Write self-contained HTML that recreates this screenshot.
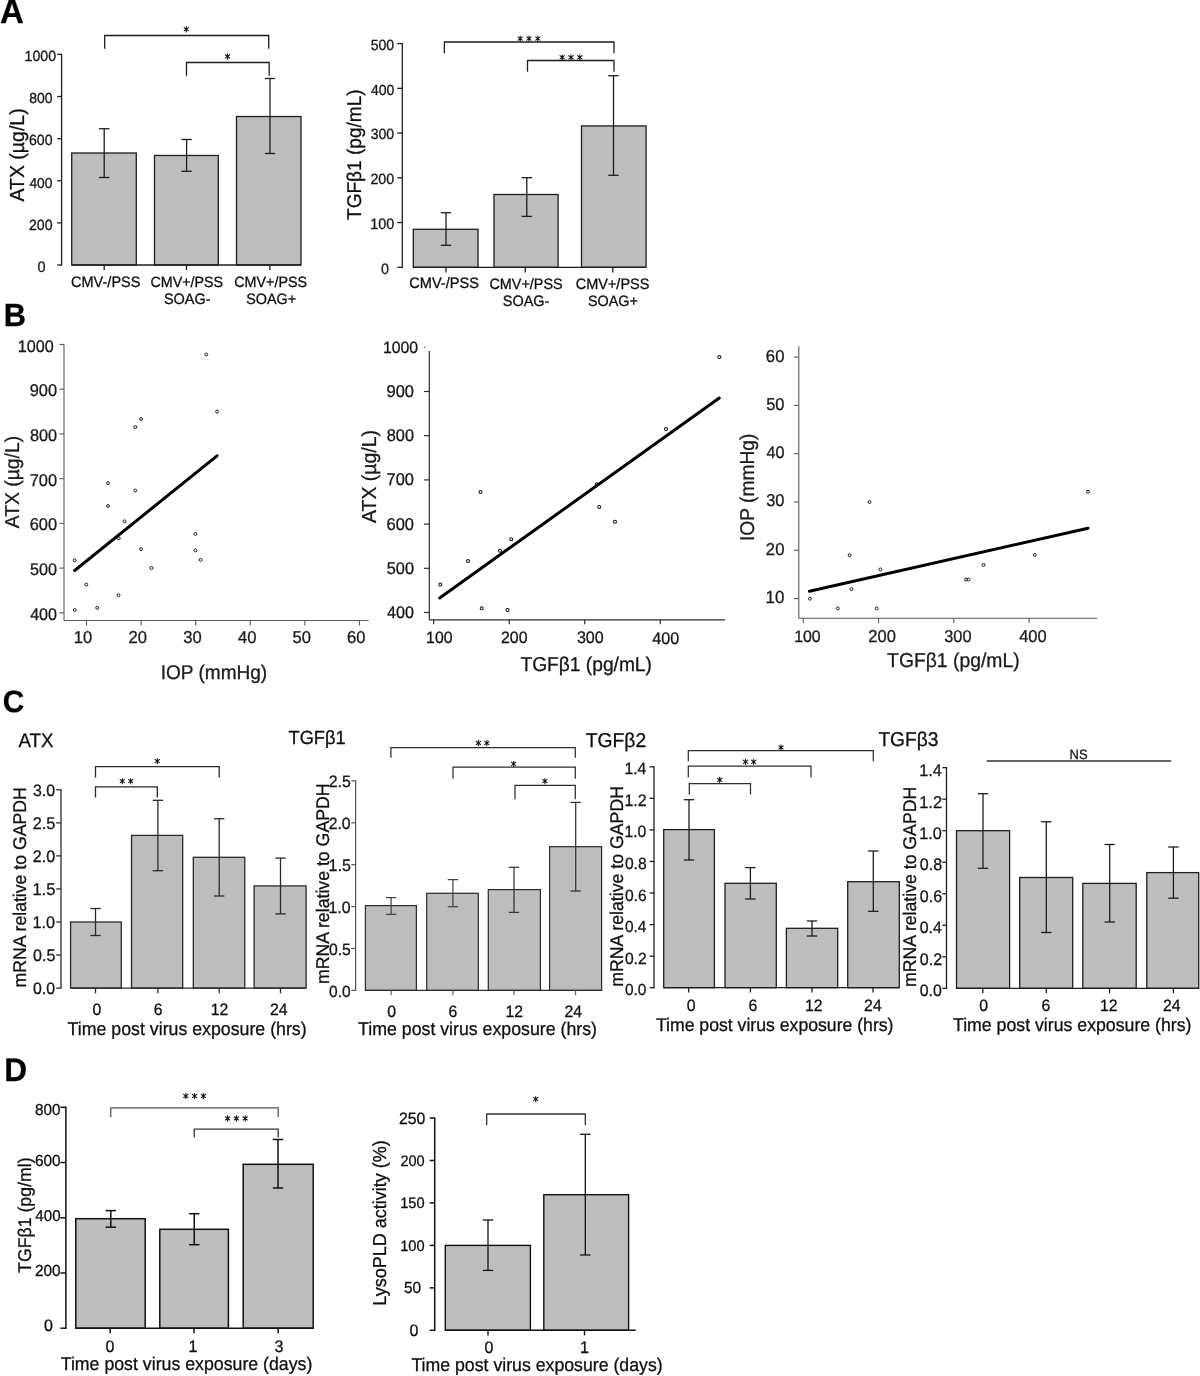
<!DOCTYPE html>
<html><head><meta charset="utf-8"><title>Figure</title>
<style>html,body{margin:0;padding:0;background:#fff;overflow:hidden;}svg{display:block;}text{font-family:"Liberation Sans", sans-serif;text-rendering:geometricPrecision;stroke:#000;stroke-width:0.25px;}#g{will-change:transform;}</style>
</head><body>
<svg id="g" width="1200" height="1376" viewBox="0 0 1200 1376">
<rect width="1200" height="1376" fill="#fff"/>
<line x1="61.60" y1="53.75" x2="61.60" y2="265.65" stroke="#1e1e1e" stroke-width="1.3" stroke-linecap="butt"/>
<line x1="57.20" y1="265.00" x2="61.60" y2="265.00" stroke="#1e1e1e" stroke-width="1.3" stroke-linecap="butt"/>
<line x1="57.20" y1="222.88" x2="61.60" y2="222.88" stroke="#1e1e1e" stroke-width="1.3" stroke-linecap="butt"/>
<line x1="57.20" y1="180.76" x2="61.60" y2="180.76" stroke="#1e1e1e" stroke-width="1.3" stroke-linecap="butt"/>
<line x1="57.20" y1="138.64" x2="61.60" y2="138.64" stroke="#1e1e1e" stroke-width="1.3" stroke-linecap="butt"/>
<line x1="57.20" y1="96.52" x2="61.60" y2="96.52" stroke="#1e1e1e" stroke-width="1.3" stroke-linecap="butt"/>
<line x1="57.20" y1="54.40" x2="61.60" y2="54.40" stroke="#1e1e1e" stroke-width="1.3" stroke-linecap="butt"/>
<rect x="71.70" y="153.00" width="64.60" height="112.00" fill="#bebebe" stroke="#1e1e1e" stroke-width="1.3"/>
<rect x="154.50" y="155.49" width="63.80" height="109.51" fill="#bebebe" stroke="#1e1e1e" stroke-width="1.3"/>
<rect x="236.50" y="116.53" width="64.50" height="148.47" fill="#bebebe" stroke="#1e1e1e" stroke-width="1.3"/>
<line x1="71.70" y1="265.00" x2="301.00" y2="265.00" stroke="#1e1e1e" stroke-width="1.3" stroke-linecap="butt"/>
<line x1="104.20" y1="128.70" x2="104.20" y2="177.50" stroke="#1e1e1e" stroke-width="1.3" stroke-linecap="butt"/>
<line x1="99.00" y1="128.70" x2="109.40" y2="128.70" stroke="#1e1e1e" stroke-width="1.3" stroke-linecap="butt"/>
<line x1="99.00" y1="177.50" x2="109.40" y2="177.50" stroke="#1e1e1e" stroke-width="1.3" stroke-linecap="butt"/>
<line x1="186.60" y1="139.50" x2="186.60" y2="171.30" stroke="#1e1e1e" stroke-width="1.3" stroke-linecap="butt"/>
<line x1="181.40" y1="139.50" x2="191.80" y2="139.50" stroke="#1e1e1e" stroke-width="1.3" stroke-linecap="butt"/>
<line x1="181.40" y1="171.30" x2="191.80" y2="171.30" stroke="#1e1e1e" stroke-width="1.3" stroke-linecap="butt"/>
<line x1="270.00" y1="78.50" x2="270.00" y2="153.50" stroke="#1e1e1e" stroke-width="1.3" stroke-linecap="butt"/>
<line x1="264.80" y1="78.50" x2="275.20" y2="78.50" stroke="#1e1e1e" stroke-width="1.3" stroke-linecap="butt"/>
<line x1="264.80" y1="153.50" x2="275.20" y2="153.50" stroke="#1e1e1e" stroke-width="1.3" stroke-linecap="butt"/>
<line x1="104.20" y1="265.00" x2="104.20" y2="270.00" stroke="#1e1e1e" stroke-width="1.3" stroke-linecap="butt"/>
<line x1="186.50" y1="265.00" x2="186.50" y2="270.00" stroke="#1e1e1e" stroke-width="1.3" stroke-linecap="butt"/>
<line x1="269.90" y1="265.00" x2="269.90" y2="270.00" stroke="#1e1e1e" stroke-width="1.3" stroke-linecap="butt"/>
<polyline points="104.70,48.70 104.70,35.50 268.70,35.50 268.70,48.70" fill="none" stroke="#1e1e1e" stroke-width="1.3" stroke-linejoin="miter"/>
<path d="M186.30,29.40L186.30,26.55M186.30,29.40L186.30,31.95M186.30,29.40L184.10,27.55M186.30,29.40L188.50,27.55M186.30,29.40L184.20,30.75M186.30,29.40L188.40,30.75" stroke="#111" stroke-width="1.05" stroke-linecap="round" fill="none"/><circle cx="186.30" cy="29.40" r="0.75" fill="#111"/>
<polyline points="186.50,75.70 186.50,62.50 269.20,62.50 269.20,75.70" fill="none" stroke="#1e1e1e" stroke-width="1.3" stroke-linejoin="miter"/>
<path d="M227.50,56.60L227.50,53.75M227.50,56.60L227.50,59.15M227.50,56.60L225.30,54.75M227.50,56.60L229.70,54.75M227.50,56.60L225.40,57.95M227.50,56.60L229.60,57.95" stroke="#111" stroke-width="1.05" stroke-linecap="round" fill="none"/><circle cx="227.50" cy="56.60" r="0.75" fill="#111"/>
<line x1="402.30" y1="42.95" x2="402.30" y2="267.95" stroke="#1e1e1e" stroke-width="1.3" stroke-linecap="butt"/>
<line x1="397.30" y1="267.30" x2="402.30" y2="267.30" stroke="#1e1e1e" stroke-width="1.3" stroke-linecap="butt"/>
<line x1="397.30" y1="222.56" x2="402.30" y2="222.56" stroke="#1e1e1e" stroke-width="1.3" stroke-linecap="butt"/>
<line x1="397.30" y1="177.82" x2="402.30" y2="177.82" stroke="#1e1e1e" stroke-width="1.3" stroke-linecap="butt"/>
<line x1="397.30" y1="133.08" x2="402.30" y2="133.08" stroke="#1e1e1e" stroke-width="1.3" stroke-linecap="butt"/>
<line x1="397.30" y1="88.34" x2="402.30" y2="88.34" stroke="#1e1e1e" stroke-width="1.3" stroke-linecap="butt"/>
<line x1="397.30" y1="43.60" x2="402.30" y2="43.60" stroke="#1e1e1e" stroke-width="1.3" stroke-linecap="butt"/>
<rect x="413.30" y="229.30" width="64.70" height="38.00" fill="#bebebe" stroke="#1e1e1e" stroke-width="1.3"/>
<rect x="494.00" y="194.50" width="64.10" height="72.80" fill="#bebebe" stroke="#1e1e1e" stroke-width="1.3"/>
<rect x="581.50" y="125.90" width="64.60" height="141.40" fill="#bebebe" stroke="#1e1e1e" stroke-width="1.3"/>
<line x1="413.30" y1="267.30" x2="646.10" y2="267.30" stroke="#1e1e1e" stroke-width="1.3" stroke-linecap="butt"/>
<line x1="446.00" y1="212.70" x2="446.00" y2="245.30" stroke="#1e1e1e" stroke-width="1.3" stroke-linecap="butt"/>
<line x1="440.80" y1="212.70" x2="451.20" y2="212.70" stroke="#1e1e1e" stroke-width="1.3" stroke-linecap="butt"/>
<line x1="440.80" y1="245.30" x2="451.20" y2="245.30" stroke="#1e1e1e" stroke-width="1.3" stroke-linecap="butt"/>
<line x1="526.80" y1="177.70" x2="526.80" y2="216.40" stroke="#1e1e1e" stroke-width="1.3" stroke-linecap="butt"/>
<line x1="521.60" y1="177.70" x2="532.00" y2="177.70" stroke="#1e1e1e" stroke-width="1.3" stroke-linecap="butt"/>
<line x1="521.60" y1="216.40" x2="532.00" y2="216.40" stroke="#1e1e1e" stroke-width="1.3" stroke-linecap="butt"/>
<line x1="613.50" y1="75.70" x2="613.50" y2="175.30" stroke="#1e1e1e" stroke-width="1.3" stroke-linecap="butt"/>
<line x1="608.30" y1="75.70" x2="618.70" y2="75.70" stroke="#1e1e1e" stroke-width="1.3" stroke-linecap="butt"/>
<line x1="608.30" y1="175.30" x2="618.70" y2="175.30" stroke="#1e1e1e" stroke-width="1.3" stroke-linecap="butt"/>
<line x1="446.00" y1="267.30" x2="446.00" y2="272.50" stroke="#1e1e1e" stroke-width="1.3" stroke-linecap="butt"/>
<line x1="525.30" y1="267.30" x2="525.30" y2="272.50" stroke="#1e1e1e" stroke-width="1.3" stroke-linecap="butt"/>
<line x1="612.80" y1="267.30" x2="612.80" y2="272.50" stroke="#1e1e1e" stroke-width="1.3" stroke-linecap="butt"/>
<polyline points="444.40,53.30 444.40,42.00 614.00,42.00 614.00,53.30" fill="none" stroke="#1e1e1e" stroke-width="1.3" stroke-linejoin="miter"/>
<path d="M520.20,38.80L520.20,35.95M520.20,38.80L520.20,41.35M520.20,38.80L518.00,36.95M520.20,38.80L522.40,36.95M520.20,38.80L518.10,40.15M520.20,38.80L522.30,40.15" stroke="#111" stroke-width="1.05" stroke-linecap="round" fill="none"/><circle cx="520.20" cy="38.80" r="0.75" fill="#111"/>
<path d="M529.00,38.80L529.00,35.95M529.00,38.80L529.00,41.35M529.00,38.80L526.80,36.95M529.00,38.80L531.20,36.95M529.00,38.80L526.90,40.15M529.00,38.80L531.10,40.15" stroke="#111" stroke-width="1.05" stroke-linecap="round" fill="none"/><circle cx="529.00" cy="38.80" r="0.75" fill="#111"/>
<path d="M537.80,38.80L537.80,35.95M537.80,38.80L537.80,41.35M537.80,38.80L535.60,36.95M537.80,38.80L540.00,36.95M537.80,38.80L535.70,40.15M537.80,38.80L539.90,40.15" stroke="#111" stroke-width="1.05" stroke-linecap="round" fill="none"/><circle cx="537.80" cy="38.80" r="0.75" fill="#111"/>
<polyline points="527.50,71.80 527.50,60.50 614.00,60.50 614.00,71.80" fill="none" stroke="#1e1e1e" stroke-width="1.3" stroke-linejoin="miter"/>
<path d="M562.20,57.50L562.20,54.65M562.20,57.50L562.20,60.05M562.20,57.50L560.00,55.65M562.20,57.50L564.40,55.65M562.20,57.50L560.10,58.85M562.20,57.50L564.30,58.85" stroke="#111" stroke-width="1.05" stroke-linecap="round" fill="none"/><circle cx="562.20" cy="57.50" r="0.75" fill="#111"/>
<path d="M571.00,57.50L571.00,54.65M571.00,57.50L571.00,60.05M571.00,57.50L568.80,55.65M571.00,57.50L573.20,55.65M571.00,57.50L568.90,58.85M571.00,57.50L573.10,58.85" stroke="#111" stroke-width="1.05" stroke-linecap="round" fill="none"/><circle cx="571.00" cy="57.50" r="0.75" fill="#111"/>
<path d="M579.80,57.50L579.80,54.65M579.80,57.50L579.80,60.05M579.80,57.50L577.60,55.65M579.80,57.50L582.00,55.65M579.80,57.50L577.70,58.85M579.80,57.50L581.90,58.85" stroke="#111" stroke-width="1.05" stroke-linecap="round" fill="none"/><circle cx="579.80" cy="57.50" r="0.75" fill="#111"/>
<line x1="64.00" y1="344.48" x2="64.00" y2="620.50" stroke="#5a5a5a" stroke-width="1.1" stroke-linecap="butt"/>
<line x1="64.00" y1="620.50" x2="368.70" y2="620.50" stroke="#5a5a5a" stroke-width="1.1" stroke-linecap="butt"/>
<line x1="59.40" y1="612.80" x2="64.00" y2="612.80" stroke="#5a5a5a" stroke-width="1.1" stroke-linecap="butt"/>
<line x1="59.40" y1="568.08" x2="64.00" y2="568.08" stroke="#5a5a5a" stroke-width="1.1" stroke-linecap="butt"/>
<line x1="59.40" y1="523.36" x2="64.00" y2="523.36" stroke="#5a5a5a" stroke-width="1.1" stroke-linecap="butt"/>
<line x1="59.40" y1="478.64" x2="64.00" y2="478.64" stroke="#5a5a5a" stroke-width="1.1" stroke-linecap="butt"/>
<line x1="59.40" y1="433.92" x2="64.00" y2="433.92" stroke="#5a5a5a" stroke-width="1.1" stroke-linecap="butt"/>
<line x1="59.40" y1="389.20" x2="64.00" y2="389.20" stroke="#5a5a5a" stroke-width="1.1" stroke-linecap="butt"/>
<line x1="59.40" y1="344.48" x2="64.00" y2="344.48" stroke="#5a5a5a" stroke-width="1.1" stroke-linecap="butt"/>
<line x1="86.50" y1="620.50" x2="86.50" y2="625.50" stroke="#5a5a5a" stroke-width="1.1" stroke-linecap="butt"/>
<line x1="141.10" y1="620.50" x2="141.10" y2="625.50" stroke="#5a5a5a" stroke-width="1.1" stroke-linecap="butt"/>
<line x1="195.70" y1="620.50" x2="195.70" y2="625.50" stroke="#5a5a5a" stroke-width="1.1" stroke-linecap="butt"/>
<line x1="250.30" y1="620.50" x2="250.30" y2="625.50" stroke="#5a5a5a" stroke-width="1.1" stroke-linecap="butt"/>
<line x1="304.90" y1="620.50" x2="304.90" y2="625.50" stroke="#5a5a5a" stroke-width="1.1" stroke-linecap="butt"/>
<line x1="359.50" y1="620.50" x2="359.50" y2="625.50" stroke="#5a5a5a" stroke-width="1.1" stroke-linecap="butt"/>
<line x1="74.70" y1="570.50" x2="217.00" y2="455.80" stroke="#000" stroke-width="3.0" stroke-linecap="round"/>
<circle cx="206.25" cy="354.50" r="1.45" fill="none" stroke="#1a1a1a" stroke-width="1.0"/>
<circle cx="217.05" cy="411.55" r="1.45" fill="none" stroke="#1a1a1a" stroke-width="1.0"/>
<circle cx="141.00" cy="419.05" r="1.45" fill="none" stroke="#1a1a1a" stroke-width="1.0"/>
<circle cx="135.30" cy="427.15" r="1.45" fill="none" stroke="#1a1a1a" stroke-width="1.0"/>
<circle cx="108.00" cy="483.20" r="1.45" fill="none" stroke="#1a1a1a" stroke-width="1.0"/>
<circle cx="135.30" cy="490.55" r="1.45" fill="none" stroke="#1a1a1a" stroke-width="1.0"/>
<circle cx="108.00" cy="506.00" r="1.45" fill="none" stroke="#1a1a1a" stroke-width="1.0"/>
<circle cx="124.50" cy="521.30" r="1.45" fill="none" stroke="#1a1a1a" stroke-width="1.0"/>
<circle cx="118.80" cy="538.25" r="1.45" fill="none" stroke="#1a1a1a" stroke-width="1.0"/>
<circle cx="141.00" cy="549.20" r="1.45" fill="none" stroke="#1a1a1a" stroke-width="1.0"/>
<circle cx="195.45" cy="533.90" r="1.45" fill="none" stroke="#1a1a1a" stroke-width="1.0"/>
<circle cx="195.45" cy="550.40" r="1.45" fill="none" stroke="#1a1a1a" stroke-width="1.0"/>
<circle cx="200.55" cy="559.85" r="1.45" fill="none" stroke="#1a1a1a" stroke-width="1.0"/>
<circle cx="151.50" cy="567.95" r="1.45" fill="none" stroke="#1a1a1a" stroke-width="1.0"/>
<circle cx="74.70" cy="560.30" r="1.45" fill="none" stroke="#1a1a1a" stroke-width="1.0"/>
<circle cx="86.25" cy="584.60" r="1.45" fill="none" stroke="#1a1a1a" stroke-width="1.0"/>
<circle cx="118.50" cy="595.25" r="1.45" fill="none" stroke="#1a1a1a" stroke-width="1.0"/>
<circle cx="97.20" cy="607.85" r="1.45" fill="none" stroke="#1a1a1a" stroke-width="1.0"/>
<circle cx="74.70" cy="610.00" r="1.45" fill="none" stroke="#1a1a1a" stroke-width="1.0"/>
<line x1="429.30" y1="351.00" x2="429.30" y2="619.80" stroke="#2a2a2a" stroke-width="1.2" stroke-linecap="butt"/>
<line x1="429.30" y1="619.80" x2="725.00" y2="619.80" stroke="#2a2a2a" stroke-width="1.2" stroke-linecap="butt"/>
<line x1="424.00" y1="612.50" x2="429.30" y2="612.50" stroke="#2a2a2a" stroke-width="1.2" stroke-linecap="butt"/>
<line x1="424.00" y1="568.30" x2="429.30" y2="568.30" stroke="#2a2a2a" stroke-width="1.2" stroke-linecap="butt"/>
<line x1="424.00" y1="524.10" x2="429.30" y2="524.10" stroke="#2a2a2a" stroke-width="1.2" stroke-linecap="butt"/>
<line x1="424.00" y1="479.90" x2="429.30" y2="479.90" stroke="#2a2a2a" stroke-width="1.2" stroke-linecap="butt"/>
<line x1="424.00" y1="435.70" x2="429.30" y2="435.70" stroke="#2a2a2a" stroke-width="1.2" stroke-linecap="butt"/>
<line x1="424.00" y1="391.50" x2="429.30" y2="391.50" stroke="#2a2a2a" stroke-width="1.2" stroke-linecap="butt"/>
<line x1="424.20" y1="347.30" x2="425.40" y2="347.30" stroke="#2a2a2a" stroke-width="1.0" stroke-linecap="butt"/>
<line x1="433.70" y1="619.80" x2="433.70" y2="624.20" stroke="#2a2a2a" stroke-width="1.2" stroke-linecap="butt"/>
<line x1="509.23" y1="619.80" x2="509.23" y2="624.20" stroke="#2a2a2a" stroke-width="1.2" stroke-linecap="butt"/>
<line x1="584.76" y1="619.80" x2="584.76" y2="624.20" stroke="#2a2a2a" stroke-width="1.2" stroke-linecap="butt"/>
<line x1="660.29" y1="619.80" x2="660.29" y2="624.20" stroke="#2a2a2a" stroke-width="1.2" stroke-linecap="butt"/>
<line x1="439.70" y1="598.00" x2="719.30" y2="398.00" stroke="#000" stroke-width="3.0" stroke-linecap="round"/>
<circle cx="480.50" cy="492.00" r="1.5" fill="none" stroke="#111" stroke-width="1.05"/>
<circle cx="468.00" cy="561.00" r="1.5" fill="none" stroke="#111" stroke-width="1.05"/>
<circle cx="440.30" cy="584.50" r="1.5" fill="none" stroke="#111" stroke-width="1.05"/>
<circle cx="500.00" cy="550.80" r="1.5" fill="none" stroke="#111" stroke-width="1.05"/>
<circle cx="511.20" cy="539.20" r="1.5" fill="none" stroke="#111" stroke-width="1.05"/>
<circle cx="481.70" cy="608.20" r="1.5" fill="none" stroke="#111" stroke-width="1.05"/>
<circle cx="507.50" cy="610.00" r="1.5" fill="none" stroke="#111" stroke-width="1.05"/>
<circle cx="599.20" cy="507.00" r="1.5" fill="none" stroke="#111" stroke-width="1.05"/>
<circle cx="615.00" cy="521.70" r="1.5" fill="none" stroke="#111" stroke-width="1.05"/>
<circle cx="596.70" cy="484.20" r="1.5" fill="none" stroke="#111" stroke-width="1.05"/>
<circle cx="719.30" cy="357.00" r="1.5" fill="none" stroke="#111" stroke-width="1.05"/>
<circle cx="666.00" cy="429.00" r="1.5" fill="none" stroke="#111" stroke-width="1.05"/>
<line x1="798.80" y1="346.30" x2="798.80" y2="618.20" stroke="#5a5a5a" stroke-width="1.1" stroke-linecap="butt"/>
<line x1="798.80" y1="618.20" x2="1097.20" y2="618.20" stroke="#5a5a5a" stroke-width="1.1" stroke-linecap="butt"/>
<line x1="794.00" y1="598.60" x2="798.80" y2="598.60" stroke="#5a5a5a" stroke-width="1.1" stroke-linecap="butt"/>
<line x1="794.00" y1="550.30" x2="798.80" y2="550.30" stroke="#5a5a5a" stroke-width="1.1" stroke-linecap="butt"/>
<line x1="794.00" y1="502.00" x2="798.80" y2="502.00" stroke="#5a5a5a" stroke-width="1.1" stroke-linecap="butt"/>
<line x1="794.00" y1="453.70" x2="798.80" y2="453.70" stroke="#5a5a5a" stroke-width="1.1" stroke-linecap="butt"/>
<line x1="794.00" y1="405.40" x2="798.80" y2="405.40" stroke="#5a5a5a" stroke-width="1.1" stroke-linecap="butt"/>
<line x1="794.00" y1="357.10" x2="798.80" y2="357.10" stroke="#5a5a5a" stroke-width="1.1" stroke-linecap="butt"/>
<line x1="803.30" y1="618.20" x2="803.30" y2="623.00" stroke="#5a5a5a" stroke-width="1.1" stroke-linecap="butt"/>
<line x1="878.57" y1="618.20" x2="878.57" y2="623.00" stroke="#5a5a5a" stroke-width="1.1" stroke-linecap="butt"/>
<line x1="953.84" y1="618.20" x2="953.84" y2="623.00" stroke="#5a5a5a" stroke-width="1.1" stroke-linecap="butt"/>
<line x1="1029.11" y1="618.20" x2="1029.11" y2="623.00" stroke="#5a5a5a" stroke-width="1.1" stroke-linecap="butt"/>
<line x1="809.40" y1="591.20" x2="1088.00" y2="528.20" stroke="#000" stroke-width="3.0" stroke-linecap="round"/>
<circle cx="809.90" cy="598.70" r="1.45" fill="none" stroke="#1a1a1a" stroke-width="1.0"/>
<circle cx="837.80" cy="608.40" r="1.45" fill="none" stroke="#1a1a1a" stroke-width="1.0"/>
<circle cx="849.60" cy="555.20" r="1.45" fill="none" stroke="#1a1a1a" stroke-width="1.0"/>
<circle cx="851.50" cy="589.20" r="1.45" fill="none" stroke="#1a1a1a" stroke-width="1.0"/>
<circle cx="869.50" cy="502.10" r="1.45" fill="none" stroke="#1a1a1a" stroke-width="1.0"/>
<circle cx="876.70" cy="608.40" r="1.45" fill="none" stroke="#1a1a1a" stroke-width="1.0"/>
<circle cx="880.40" cy="569.40" r="1.45" fill="none" stroke="#1a1a1a" stroke-width="1.0"/>
<circle cx="1088.00" cy="491.70" r="1.45" fill="none" stroke="#1a1a1a" stroke-width="1.0"/>
<circle cx="1034.80" cy="554.90" r="1.45" fill="none" stroke="#1a1a1a" stroke-width="1.0"/>
<circle cx="983.50" cy="564.90" r="1.45" fill="none" stroke="#1a1a1a" stroke-width="1.0"/>
<circle cx="966.00" cy="579.50" r="1.45" fill="none" stroke="#1a1a1a" stroke-width="1.0"/>
<circle cx="968.60" cy="579.50" r="1.45" fill="none" stroke="#1a1a1a" stroke-width="1.0"/>
<line x1="61.00" y1="789.15" x2="61.00" y2="988.75" stroke="#2a2a2a" stroke-width="1.3" stroke-linecap="butt"/>
<line x1="56.20" y1="988.10" x2="61.00" y2="988.10" stroke="#2a2a2a" stroke-width="1.3" stroke-linecap="butt"/>
<line x1="56.20" y1="955.05" x2="61.00" y2="955.05" stroke="#2a2a2a" stroke-width="1.3" stroke-linecap="butt"/>
<line x1="56.20" y1="922.00" x2="61.00" y2="922.00" stroke="#2a2a2a" stroke-width="1.3" stroke-linecap="butt"/>
<line x1="56.20" y1="888.95" x2="61.00" y2="888.95" stroke="#2a2a2a" stroke-width="1.3" stroke-linecap="butt"/>
<line x1="56.20" y1="855.90" x2="61.00" y2="855.90" stroke="#2a2a2a" stroke-width="1.3" stroke-linecap="butt"/>
<line x1="56.20" y1="822.85" x2="61.00" y2="822.85" stroke="#2a2a2a" stroke-width="1.3" stroke-linecap="butt"/>
<line x1="56.20" y1="789.80" x2="61.00" y2="789.80" stroke="#2a2a2a" stroke-width="1.3" stroke-linecap="butt"/>
<rect x="70.60" y="922.00" width="50.70" height="66.10" fill="#bebebe" stroke="#2a2a2a" stroke-width="1.3"/>
<rect x="131.50" y="835.40" width="51.20" height="152.70" fill="#bebebe" stroke="#2a2a2a" stroke-width="1.3"/>
<rect x="193.30" y="857.30" width="51.50" height="130.80" fill="#bebebe" stroke="#2a2a2a" stroke-width="1.3"/>
<rect x="254.10" y="885.90" width="52.00" height="102.20" fill="#bebebe" stroke="#2a2a2a" stroke-width="1.3"/>
<line x1="70.60" y1="988.10" x2="306.10" y2="988.10" stroke="#2a2a2a" stroke-width="1.3" stroke-linecap="butt"/>
<line x1="95.50" y1="908.50" x2="95.50" y2="935.50" stroke="#2a2a2a" stroke-width="1.3" stroke-linecap="butt"/>
<line x1="90.30" y1="908.50" x2="100.70" y2="908.50" stroke="#2a2a2a" stroke-width="1.3" stroke-linecap="butt"/>
<line x1="90.30" y1="935.50" x2="100.70" y2="935.50" stroke="#2a2a2a" stroke-width="1.3" stroke-linecap="butt"/>
<line x1="157.90" y1="800.30" x2="157.90" y2="870.70" stroke="#2a2a2a" stroke-width="1.3" stroke-linecap="butt"/>
<line x1="152.70" y1="800.30" x2="163.10" y2="800.30" stroke="#2a2a2a" stroke-width="1.3" stroke-linecap="butt"/>
<line x1="152.70" y1="870.70" x2="163.10" y2="870.70" stroke="#2a2a2a" stroke-width="1.3" stroke-linecap="butt"/>
<line x1="219.20" y1="818.70" x2="219.20" y2="896.00" stroke="#2a2a2a" stroke-width="1.3" stroke-linecap="butt"/>
<line x1="214.00" y1="818.70" x2="224.40" y2="818.70" stroke="#2a2a2a" stroke-width="1.3" stroke-linecap="butt"/>
<line x1="214.00" y1="896.00" x2="224.40" y2="896.00" stroke="#2a2a2a" stroke-width="1.3" stroke-linecap="butt"/>
<line x1="280.50" y1="858.10" x2="280.50" y2="913.90" stroke="#2a2a2a" stroke-width="1.3" stroke-linecap="butt"/>
<line x1="275.30" y1="858.10" x2="285.70" y2="858.10" stroke="#2a2a2a" stroke-width="1.3" stroke-linecap="butt"/>
<line x1="275.30" y1="913.90" x2="285.70" y2="913.90" stroke="#2a2a2a" stroke-width="1.3" stroke-linecap="butt"/>
<line x1="95.50" y1="988.10" x2="95.50" y2="993.30" stroke="#2a2a2a" stroke-width="1.3" stroke-linecap="butt"/>
<line x1="157.90" y1="988.10" x2="157.90" y2="993.30" stroke="#2a2a2a" stroke-width="1.3" stroke-linecap="butt"/>
<line x1="219.20" y1="988.10" x2="219.20" y2="993.30" stroke="#2a2a2a" stroke-width="1.3" stroke-linecap="butt"/>
<line x1="280.50" y1="988.10" x2="280.50" y2="993.30" stroke="#2a2a2a" stroke-width="1.3" stroke-linecap="butt"/>
<polyline points="95.50,777.50 95.50,766.70 219.20,766.70 219.20,777.50" fill="none" stroke="#2a2a2a" stroke-width="1.3" stroke-linejoin="miter"/>
<path d="M157.30,761.30L157.30,758.45M157.30,761.30L157.30,763.85M157.30,761.30L155.10,759.45M157.30,761.30L159.50,759.45M157.30,761.30L155.20,762.65M157.30,761.30L159.40,762.65" stroke="#111" stroke-width="1.05" stroke-linecap="round" fill="none"/><circle cx="157.30" cy="761.30" r="0.75" fill="#111"/>
<polyline points="95.50,797.50 95.50,786.80 157.30,786.80 157.30,797.50" fill="none" stroke="#2a2a2a" stroke-width="1.3" stroke-linejoin="miter"/>
<path d="M122.30,781.30L122.30,778.45M122.30,781.30L122.30,783.85M122.30,781.30L120.10,779.45M122.30,781.30L124.50,779.45M122.30,781.30L120.20,782.65M122.30,781.30L124.40,782.65" stroke="#111" stroke-width="1.05" stroke-linecap="round" fill="none"/><circle cx="122.30" cy="781.30" r="0.75" fill="#111"/>
<path d="M130.70,781.30L130.70,778.45M130.70,781.30L130.70,783.85M130.70,781.30L128.50,779.45M130.70,781.30L132.90,779.45M130.70,781.30L128.60,782.65M130.70,781.30L132.80,782.65" stroke="#111" stroke-width="1.05" stroke-linecap="round" fill="none"/><circle cx="130.70" cy="781.30" r="0.75" fill="#111"/>
<line x1="355.60" y1="780.30" x2="355.60" y2="991.00" stroke="#555" stroke-width="1.25" stroke-linecap="butt"/>
<line x1="351.30" y1="990.40" x2="355.60" y2="990.40" stroke="#555" stroke-width="1.25" stroke-linecap="butt"/>
<line x1="351.30" y1="948.50" x2="355.60" y2="948.50" stroke="#555" stroke-width="1.25" stroke-linecap="butt"/>
<line x1="351.30" y1="906.60" x2="355.60" y2="906.60" stroke="#555" stroke-width="1.25" stroke-linecap="butt"/>
<line x1="351.30" y1="864.70" x2="355.60" y2="864.70" stroke="#555" stroke-width="1.25" stroke-linecap="butt"/>
<line x1="351.30" y1="822.80" x2="355.60" y2="822.80" stroke="#555" stroke-width="1.25" stroke-linecap="butt"/>
<line x1="351.30" y1="780.90" x2="355.60" y2="780.90" stroke="#555" stroke-width="1.25" stroke-linecap="butt"/>
<rect x="365.40" y="905.60" width="51.00" height="84.80" fill="#bebebe" stroke="#2e2e2e" stroke-width="1.25"/>
<rect x="426.70" y="893.30" width="51.60" height="97.10" fill="#bebebe" stroke="#2e2e2e" stroke-width="1.25"/>
<rect x="488.30" y="889.60" width="52.10" height="100.80" fill="#bebebe" stroke="#2e2e2e" stroke-width="1.25"/>
<rect x="549.60" y="846.70" width="52.00" height="143.70" fill="#bebebe" stroke="#2e2e2e" stroke-width="1.25"/>
<line x1="365.40" y1="990.40" x2="601.60" y2="990.40" stroke="#2e2e2e" stroke-width="1.25" stroke-linecap="butt"/>
<line x1="391.10" y1="897.60" x2="391.10" y2="914.40" stroke="#444" stroke-width="1.25" stroke-linecap="butt"/>
<line x1="385.90" y1="897.60" x2="396.30" y2="897.60" stroke="#444" stroke-width="1.25" stroke-linecap="butt"/>
<line x1="385.90" y1="914.40" x2="396.30" y2="914.40" stroke="#444" stroke-width="1.25" stroke-linecap="butt"/>
<line x1="452.90" y1="879.60" x2="452.90" y2="906.70" stroke="#444" stroke-width="1.25" stroke-linecap="butt"/>
<line x1="447.70" y1="879.60" x2="458.10" y2="879.60" stroke="#444" stroke-width="1.25" stroke-linecap="butt"/>
<line x1="447.70" y1="906.70" x2="458.10" y2="906.70" stroke="#444" stroke-width="1.25" stroke-linecap="butt"/>
<line x1="514.00" y1="867.30" x2="514.00" y2="912.40" stroke="#333" stroke-width="1.25" stroke-linecap="butt"/>
<line x1="508.80" y1="867.30" x2="519.20" y2="867.30" stroke="#333" stroke-width="1.25" stroke-linecap="butt"/>
<line x1="508.80" y1="912.40" x2="519.20" y2="912.40" stroke="#333" stroke-width="1.25" stroke-linecap="butt"/>
<line x1="575.70" y1="802.40" x2="575.70" y2="891.00" stroke="#333" stroke-width="1.25" stroke-linecap="butt"/>
<line x1="570.50" y1="802.40" x2="580.90" y2="802.40" stroke="#333" stroke-width="1.25" stroke-linecap="butt"/>
<line x1="570.50" y1="891.00" x2="580.90" y2="891.00" stroke="#333" stroke-width="1.25" stroke-linecap="butt"/>
<line x1="391.10" y1="990.40" x2="391.10" y2="995.30" stroke="#666" stroke-width="1.25" stroke-linecap="butt"/>
<line x1="452.90" y1="990.40" x2="452.90" y2="995.30" stroke="#666" stroke-width="1.25" stroke-linecap="butt"/>
<line x1="514.00" y1="990.40" x2="514.00" y2="995.30" stroke="#666" stroke-width="1.25" stroke-linecap="butt"/>
<line x1="575.50" y1="990.40" x2="575.50" y2="995.30" stroke="#666" stroke-width="1.25" stroke-linecap="butt"/>
<polyline points="390.90,757.80 390.90,747.60 575.30,747.60 575.30,757.80" fill="none" stroke="#2e2e2e" stroke-width="1.25" stroke-linejoin="miter"/>
<path d="M478.40,743.20L478.40,740.35M478.40,743.20L478.40,745.75M478.40,743.20L476.20,741.35M478.40,743.20L480.60,741.35M478.40,743.20L476.30,744.55M478.40,743.20L480.50,744.55" stroke="#111" stroke-width="1.05" stroke-linecap="round" fill="none"/><circle cx="478.40" cy="743.20" r="0.75" fill="#111"/>
<path d="M486.80,743.20L486.80,740.35M486.80,743.20L486.80,745.75M486.80,743.20L484.60,741.35M486.80,743.20L489.00,741.35M486.80,743.20L484.70,744.55M486.80,743.20L488.90,744.55" stroke="#111" stroke-width="1.05" stroke-linecap="round" fill="none"/><circle cx="486.80" cy="743.20" r="0.75" fill="#111"/>
<polyline points="453.00,778.70 453.00,767.00 575.30,767.00 575.30,778.70" fill="none" stroke="#2e2e2e" stroke-width="1.25" stroke-linejoin="miter"/>
<path d="M513.60,764.00L513.60,761.15M513.60,764.00L513.60,766.55M513.60,764.00L511.40,762.15M513.60,764.00L515.80,762.15M513.60,764.00L511.50,765.35M513.60,764.00L515.70,765.35" stroke="#111" stroke-width="1.05" stroke-linecap="round" fill="none"/><circle cx="513.60" cy="764.00" r="0.75" fill="#111"/>
<polyline points="515.00,799.30 515.00,785.30 575.30,785.30 575.30,799.30" fill="none" stroke="#2e2e2e" stroke-width="1.25" stroke-linejoin="miter"/>
<path d="M544.90,781.30L544.90,778.45M544.90,781.30L544.90,783.85M544.90,781.30L542.70,779.45M544.90,781.30L547.10,779.45M544.90,781.30L542.80,782.65M544.90,781.30L547.00,782.65" stroke="#111" stroke-width="1.05" stroke-linecap="round" fill="none"/><circle cx="544.90" cy="781.30" r="0.75" fill="#111"/>
<line x1="654.00" y1="766.13" x2="654.00" y2="988.35" stroke="#1e1e1e" stroke-width="1.3" stroke-linecap="butt"/>
<line x1="649.60" y1="987.70" x2="654.00" y2="987.70" stroke="#1e1e1e" stroke-width="1.3" stroke-linecap="butt"/>
<line x1="649.60" y1="956.14" x2="654.00" y2="956.14" stroke="#1e1e1e" stroke-width="1.3" stroke-linecap="butt"/>
<line x1="649.60" y1="924.58" x2="654.00" y2="924.58" stroke="#1e1e1e" stroke-width="1.3" stroke-linecap="butt"/>
<line x1="649.60" y1="893.02" x2="654.00" y2="893.02" stroke="#1e1e1e" stroke-width="1.3" stroke-linecap="butt"/>
<line x1="649.60" y1="861.46" x2="654.00" y2="861.46" stroke="#1e1e1e" stroke-width="1.3" stroke-linecap="butt"/>
<line x1="649.60" y1="829.90" x2="654.00" y2="829.90" stroke="#1e1e1e" stroke-width="1.3" stroke-linecap="butt"/>
<line x1="649.60" y1="798.34" x2="654.00" y2="798.34" stroke="#1e1e1e" stroke-width="1.3" stroke-linecap="butt"/>
<line x1="649.60" y1="766.78" x2="654.00" y2="766.78" stroke="#1e1e1e" stroke-width="1.3" stroke-linecap="butt"/>
<rect x="663.70" y="829.60" width="50.70" height="158.10" fill="#bebebe" stroke="#1e1e1e" stroke-width="1.3"/>
<rect x="725.00" y="883.30" width="51.30" height="104.40" fill="#bebebe" stroke="#1e1e1e" stroke-width="1.3"/>
<rect x="786.40" y="928.30" width="51.30" height="59.40" fill="#bebebe" stroke="#1e1e1e" stroke-width="1.3"/>
<rect x="847.70" y="881.70" width="51.60" height="106.00" fill="#bebebe" stroke="#1e1e1e" stroke-width="1.3"/>
<line x1="663.70" y1="987.70" x2="899.30" y2="987.70" stroke="#1e1e1e" stroke-width="1.3" stroke-linecap="butt"/>
<line x1="689.00" y1="799.70" x2="689.00" y2="860.00" stroke="#1e1e1e" stroke-width="1.3" stroke-linecap="butt"/>
<line x1="683.80" y1="799.70" x2="694.20" y2="799.70" stroke="#1e1e1e" stroke-width="1.3" stroke-linecap="butt"/>
<line x1="683.80" y1="860.00" x2="694.20" y2="860.00" stroke="#1e1e1e" stroke-width="1.3" stroke-linecap="butt"/>
<line x1="750.40" y1="867.60" x2="750.40" y2="899.00" stroke="#1e1e1e" stroke-width="1.3" stroke-linecap="butt"/>
<line x1="745.20" y1="867.60" x2="755.60" y2="867.60" stroke="#1e1e1e" stroke-width="1.3" stroke-linecap="butt"/>
<line x1="745.20" y1="899.00" x2="755.60" y2="899.00" stroke="#1e1e1e" stroke-width="1.3" stroke-linecap="butt"/>
<line x1="812.00" y1="921.00" x2="812.00" y2="936.00" stroke="#1e1e1e" stroke-width="1.3" stroke-linecap="butt"/>
<line x1="806.80" y1="921.00" x2="817.20" y2="921.00" stroke="#1e1e1e" stroke-width="1.3" stroke-linecap="butt"/>
<line x1="806.80" y1="936.00" x2="817.20" y2="936.00" stroke="#1e1e1e" stroke-width="1.3" stroke-linecap="butt"/>
<line x1="873.30" y1="851.00" x2="873.30" y2="911.30" stroke="#1e1e1e" stroke-width="1.3" stroke-linecap="butt"/>
<line x1="868.10" y1="851.00" x2="878.50" y2="851.00" stroke="#1e1e1e" stroke-width="1.3" stroke-linecap="butt"/>
<line x1="868.10" y1="911.30" x2="878.50" y2="911.30" stroke="#1e1e1e" stroke-width="1.3" stroke-linecap="butt"/>
<line x1="688.70" y1="987.70" x2="688.70" y2="992.50" stroke="#1e1e1e" stroke-width="1.3" stroke-linecap="butt"/>
<line x1="750.40" y1="987.70" x2="750.40" y2="992.50" stroke="#1e1e1e" stroke-width="1.3" stroke-linecap="butt"/>
<line x1="812.00" y1="987.70" x2="812.00" y2="992.50" stroke="#1e1e1e" stroke-width="1.3" stroke-linecap="butt"/>
<line x1="873.00" y1="987.70" x2="873.00" y2="992.50" stroke="#1e1e1e" stroke-width="1.3" stroke-linecap="butt"/>
<polyline points="688.30,761.30 688.30,750.70 873.30,750.70 873.30,761.30" fill="none" stroke="#2e2e2e" stroke-width="1.25" stroke-linejoin="miter"/>
<path d="M781.00,747.70L781.00,744.85M781.00,747.70L781.00,750.25M781.00,747.70L778.80,745.85M781.00,747.70L783.20,745.85M781.00,747.70L778.90,749.05M781.00,747.70L783.10,749.05" stroke="#111" stroke-width="1.05" stroke-linecap="round" fill="none"/><circle cx="781.00" cy="747.70" r="0.75" fill="#111"/>
<polyline points="688.30,777.50 688.30,766.00 811.00,766.00 811.00,777.50" fill="none" stroke="#2e2e2e" stroke-width="1.25" stroke-linejoin="miter"/>
<path d="M745.50,762.00L745.50,759.15M745.50,762.00L745.50,764.55M745.50,762.00L743.30,760.15M745.50,762.00L747.70,760.15M745.50,762.00L743.40,763.35M745.50,762.00L747.60,763.35" stroke="#111" stroke-width="1.05" stroke-linecap="round" fill="none"/><circle cx="745.50" cy="762.00" r="0.75" fill="#111"/>
<path d="M753.70,762.00L753.70,759.15M753.70,762.00L753.70,764.55M753.70,762.00L751.50,760.15M753.70,762.00L755.90,760.15M753.70,762.00L751.60,763.35M753.70,762.00L755.80,763.35" stroke="#111" stroke-width="1.05" stroke-linecap="round" fill="none"/><circle cx="753.70" cy="762.00" r="0.75" fill="#111"/>
<polyline points="689.30,794.40 689.30,783.60 750.50,783.60 750.50,794.40" fill="none" stroke="#2e2e2e" stroke-width="1.25" stroke-linejoin="miter"/>
<path d="M719.70,780.00L719.70,777.15M719.70,780.00L719.70,782.55M719.70,780.00L717.50,778.15M719.70,780.00L721.90,778.15M719.70,780.00L717.60,781.35M719.70,780.00L721.80,781.35" stroke="#111" stroke-width="1.05" stroke-linecap="round" fill="none"/><circle cx="719.70" cy="780.00" r="0.75" fill="#111"/>
<line x1="946.50" y1="767.01" x2="946.50" y2="988.95" stroke="#1e1e1e" stroke-width="1.3" stroke-linecap="butt"/>
<line x1="942.30" y1="988.30" x2="946.50" y2="988.30" stroke="#1e1e1e" stroke-width="1.3" stroke-linecap="butt"/>
<line x1="942.30" y1="956.78" x2="946.50" y2="956.78" stroke="#1e1e1e" stroke-width="1.3" stroke-linecap="butt"/>
<line x1="942.30" y1="925.26" x2="946.50" y2="925.26" stroke="#1e1e1e" stroke-width="1.3" stroke-linecap="butt"/>
<line x1="942.30" y1="893.74" x2="946.50" y2="893.74" stroke="#1e1e1e" stroke-width="1.3" stroke-linecap="butt"/>
<line x1="942.30" y1="862.22" x2="946.50" y2="862.22" stroke="#1e1e1e" stroke-width="1.3" stroke-linecap="butt"/>
<line x1="942.30" y1="830.70" x2="946.50" y2="830.70" stroke="#1e1e1e" stroke-width="1.3" stroke-linecap="butt"/>
<line x1="942.30" y1="799.18" x2="946.50" y2="799.18" stroke="#1e1e1e" stroke-width="1.3" stroke-linecap="butt"/>
<line x1="942.30" y1="767.66" x2="946.50" y2="767.66" stroke="#1e1e1e" stroke-width="1.3" stroke-linecap="butt"/>
<rect x="956.50" y="830.70" width="53.10" height="157.60" fill="#bebebe" stroke="#1e1e1e" stroke-width="1.3"/>
<rect x="1019.70" y="877.50" width="53.00" height="110.80" fill="#bebebe" stroke="#1e1e1e" stroke-width="1.3"/>
<rect x="1082.80" y="883.40" width="53.40" height="104.90" fill="#bebebe" stroke="#1e1e1e" stroke-width="1.3"/>
<rect x="1146.80" y="872.60" width="51.90" height="115.70" fill="#bebebe" stroke="#1e1e1e" stroke-width="1.3"/>
<line x1="956.50" y1="988.30" x2="1199.00" y2="988.30" stroke="#1e1e1e" stroke-width="1.3" stroke-linecap="butt"/>
<line x1="983.00" y1="793.70" x2="983.00" y2="868.30" stroke="#1e1e1e" stroke-width="1.3" stroke-linecap="butt"/>
<line x1="977.80" y1="793.70" x2="988.20" y2="793.70" stroke="#1e1e1e" stroke-width="1.3" stroke-linecap="butt"/>
<line x1="977.80" y1="868.30" x2="988.20" y2="868.30" stroke="#1e1e1e" stroke-width="1.3" stroke-linecap="butt"/>
<line x1="1046.30" y1="821.75" x2="1046.30" y2="932.50" stroke="#1e1e1e" stroke-width="1.3" stroke-linecap="butt"/>
<line x1="1041.10" y1="821.75" x2="1051.50" y2="821.75" stroke="#1e1e1e" stroke-width="1.3" stroke-linecap="butt"/>
<line x1="1041.10" y1="932.50" x2="1051.50" y2="932.50" stroke="#1e1e1e" stroke-width="1.3" stroke-linecap="butt"/>
<line x1="1109.70" y1="844.50" x2="1109.70" y2="922.00" stroke="#1e1e1e" stroke-width="1.3" stroke-linecap="butt"/>
<line x1="1104.50" y1="844.50" x2="1114.90" y2="844.50" stroke="#1e1e1e" stroke-width="1.3" stroke-linecap="butt"/>
<line x1="1104.50" y1="922.00" x2="1114.90" y2="922.00" stroke="#1e1e1e" stroke-width="1.3" stroke-linecap="butt"/>
<line x1="1173.40" y1="847.00" x2="1173.40" y2="898.20" stroke="#1e1e1e" stroke-width="1.3" stroke-linecap="butt"/>
<line x1="1168.20" y1="847.00" x2="1178.60" y2="847.00" stroke="#1e1e1e" stroke-width="1.3" stroke-linecap="butt"/>
<line x1="1168.20" y1="898.20" x2="1178.60" y2="898.20" stroke="#1e1e1e" stroke-width="1.3" stroke-linecap="butt"/>
<line x1="982.80" y1="988.30" x2="982.80" y2="993.20" stroke="#1e1e1e" stroke-width="1.3" stroke-linecap="butt"/>
<line x1="1046.30" y1="988.30" x2="1046.30" y2="993.20" stroke="#1e1e1e" stroke-width="1.3" stroke-linecap="butt"/>
<line x1="1109.60" y1="988.30" x2="1109.60" y2="993.20" stroke="#1e1e1e" stroke-width="1.3" stroke-linecap="butt"/>
<line x1="1173.40" y1="988.30" x2="1173.40" y2="993.20" stroke="#1e1e1e" stroke-width="1.3" stroke-linecap="butt"/>
<line x1="986.70" y1="761.00" x2="1171.20" y2="761.00" stroke="#333" stroke-width="1.3" stroke-linecap="butt"/>
<line x1="65.90" y1="1106.57" x2="65.90" y2="1328.95" stroke="#111" stroke-width="1.5" stroke-linecap="butt"/>
<line x1="60.40" y1="1328.20" x2="65.90" y2="1328.20" stroke="#111" stroke-width="1.5" stroke-linecap="butt"/>
<line x1="60.40" y1="1272.98" x2="65.90" y2="1272.98" stroke="#111" stroke-width="1.5" stroke-linecap="butt"/>
<line x1="60.40" y1="1217.76" x2="65.90" y2="1217.76" stroke="#111" stroke-width="1.5" stroke-linecap="butt"/>
<line x1="60.40" y1="1162.54" x2="65.90" y2="1162.54" stroke="#111" stroke-width="1.5" stroke-linecap="butt"/>
<line x1="60.40" y1="1107.32" x2="65.90" y2="1107.32" stroke="#111" stroke-width="1.5" stroke-linecap="butt"/>
<rect x="75.80" y="1218.70" width="69.40" height="109.50" fill="#bebebe" stroke="#111" stroke-width="1.5"/>
<rect x="159.80" y="1229.30" width="68.60" height="98.90" fill="#bebebe" stroke="#111" stroke-width="1.5"/>
<rect x="243.20" y="1164.30" width="70.00" height="163.90" fill="#bebebe" stroke="#111" stroke-width="1.5"/>
<line x1="75.80" y1="1328.20" x2="313.20" y2="1328.20" stroke="#111" stroke-width="1.5" stroke-linecap="butt"/>
<line x1="110.80" y1="1210.60" x2="110.80" y2="1227.20" stroke="#111" stroke-width="1.5" stroke-linecap="butt"/>
<line x1="105.60" y1="1210.60" x2="116.00" y2="1210.60" stroke="#111" stroke-width="1.5" stroke-linecap="butt"/>
<line x1="105.60" y1="1227.20" x2="116.00" y2="1227.20" stroke="#111" stroke-width="1.5" stroke-linecap="butt"/>
<line x1="194.25" y1="1213.70" x2="194.25" y2="1244.70" stroke="#111" stroke-width="1.5" stroke-linecap="butt"/>
<line x1="189.05" y1="1213.70" x2="199.45" y2="1213.70" stroke="#111" stroke-width="1.5" stroke-linecap="butt"/>
<line x1="189.05" y1="1244.70" x2="199.45" y2="1244.70" stroke="#111" stroke-width="1.5" stroke-linecap="butt"/>
<line x1="278.00" y1="1139.50" x2="278.00" y2="1188.00" stroke="#111" stroke-width="1.5" stroke-linecap="butt"/>
<line x1="272.80" y1="1139.50" x2="283.20" y2="1139.50" stroke="#111" stroke-width="1.5" stroke-linecap="butt"/>
<line x1="272.80" y1="1188.00" x2="283.20" y2="1188.00" stroke="#111" stroke-width="1.5" stroke-linecap="butt"/>
<line x1="110.20" y1="1328.20" x2="110.20" y2="1333.30" stroke="#111" stroke-width="1.5" stroke-linecap="butt"/>
<line x1="194.00" y1="1328.20" x2="194.00" y2="1333.30" stroke="#111" stroke-width="1.5" stroke-linecap="butt"/>
<line x1="278.20" y1="1328.20" x2="278.20" y2="1333.30" stroke="#111" stroke-width="1.5" stroke-linecap="butt"/>
<polyline points="110.70,1117.00 110.70,1107.80 278.20,1107.80 278.20,1117.00" fill="none" stroke="#555" stroke-width="1.3" stroke-linejoin="miter"/>
<path d="M185.80,1096.20L185.80,1093.35M185.80,1096.20L185.80,1098.75M185.80,1096.20L183.60,1094.35M185.80,1096.20L188.00,1094.35M185.80,1096.20L183.70,1097.55M185.80,1096.20L187.90,1097.55" stroke="#111" stroke-width="1.05" stroke-linecap="round" fill="none"/><circle cx="185.80" cy="1096.20" r="0.75" fill="#111"/>
<path d="M194.60,1096.20L194.60,1093.35M194.60,1096.20L194.60,1098.75M194.60,1096.20L192.40,1094.35M194.60,1096.20L196.80,1094.35M194.60,1096.20L192.50,1097.55M194.60,1096.20L196.70,1097.55" stroke="#111" stroke-width="1.05" stroke-linecap="round" fill="none"/><circle cx="194.60" cy="1096.20" r="0.75" fill="#111"/>
<path d="M203.40,1096.20L203.40,1093.35M203.40,1096.20L203.40,1098.75M203.40,1096.20L201.20,1094.35M203.40,1096.20L205.60,1094.35M203.40,1096.20L201.30,1097.55M203.40,1096.20L205.50,1097.55" stroke="#111" stroke-width="1.05" stroke-linecap="round" fill="none"/><circle cx="203.40" cy="1096.20" r="0.75" fill="#111"/>
<polyline points="194.25,1137.40 194.25,1129.20 278.20,1129.20 278.20,1137.40" fill="none" stroke="#333" stroke-width="1.3" stroke-linejoin="miter"/>
<path d="M227.60,1118.60L227.60,1115.75M227.60,1118.60L227.60,1121.15M227.60,1118.60L225.40,1116.75M227.60,1118.60L229.80,1116.75M227.60,1118.60L225.50,1119.95M227.60,1118.60L229.70,1119.95" stroke="#111" stroke-width="1.05" stroke-linecap="round" fill="none"/><circle cx="227.60" cy="1118.60" r="0.75" fill="#111"/>
<path d="M236.40,1118.60L236.40,1115.75M236.40,1118.60L236.40,1121.15M236.40,1118.60L234.20,1116.75M236.40,1118.60L238.60,1116.75M236.40,1118.60L234.30,1119.95M236.40,1118.60L238.50,1119.95" stroke="#111" stroke-width="1.05" stroke-linecap="round" fill="none"/><circle cx="236.40" cy="1118.60" r="0.75" fill="#111"/>
<path d="M245.20,1118.60L245.20,1115.75M245.20,1118.60L245.20,1121.15M245.20,1118.60L243.00,1116.75M245.20,1118.60L247.40,1116.75M245.20,1118.60L243.10,1119.95M245.20,1118.60L247.30,1119.95" stroke="#111" stroke-width="1.05" stroke-linecap="round" fill="none"/><circle cx="245.20" cy="1118.60" r="0.75" fill="#111"/>
<line x1="434.70" y1="1117.25" x2="434.70" y2="1331.05" stroke="#111" stroke-width="1.5" stroke-linecap="butt"/>
<line x1="429.70" y1="1330.30" x2="434.70" y2="1330.30" stroke="#111" stroke-width="1.5" stroke-linecap="butt"/>
<line x1="429.70" y1="1287.84" x2="434.70" y2="1287.84" stroke="#111" stroke-width="1.5" stroke-linecap="butt"/>
<line x1="429.70" y1="1245.38" x2="434.70" y2="1245.38" stroke="#111" stroke-width="1.5" stroke-linecap="butt"/>
<line x1="429.70" y1="1202.92" x2="434.70" y2="1202.92" stroke="#111" stroke-width="1.5" stroke-linecap="butt"/>
<line x1="429.70" y1="1160.46" x2="434.70" y2="1160.46" stroke="#111" stroke-width="1.5" stroke-linecap="butt"/>
<line x1="429.70" y1="1118.00" x2="434.70" y2="1118.00" stroke="#111" stroke-width="1.5" stroke-linecap="butt"/>
<rect x="445.30" y="1245.40" width="85.10" height="84.90" fill="#bebebe" stroke="#111" stroke-width="1.4"/>
<rect x="543.80" y="1194.70" width="84.80" height="135.60" fill="#bebebe" stroke="#111" stroke-width="1.4"/>
<line x1="445.30" y1="1330.30" x2="635.70" y2="1330.30" stroke="#111" stroke-width="1.4" stroke-linecap="butt"/>
<line x1="488.00" y1="1220.00" x2="488.00" y2="1270.40" stroke="#111" stroke-width="1.3" stroke-linecap="butt"/>
<line x1="482.80" y1="1220.00" x2="493.20" y2="1220.00" stroke="#111" stroke-width="1.3" stroke-linecap="butt"/>
<line x1="482.80" y1="1270.40" x2="493.20" y2="1270.40" stroke="#111" stroke-width="1.3" stroke-linecap="butt"/>
<line x1="585.30" y1="1134.30" x2="585.30" y2="1255.00" stroke="#111" stroke-width="1.3" stroke-linecap="butt"/>
<line x1="580.10" y1="1134.30" x2="590.50" y2="1134.30" stroke="#111" stroke-width="1.3" stroke-linecap="butt"/>
<line x1="580.10" y1="1255.00" x2="590.50" y2="1255.00" stroke="#111" stroke-width="1.3" stroke-linecap="butt"/>
<line x1="488.00" y1="1330.30" x2="488.00" y2="1335.40" stroke="#111" stroke-width="1.4" stroke-linecap="butt"/>
<line x1="584.50" y1="1330.30" x2="584.50" y2="1335.40" stroke="#111" stroke-width="1.4" stroke-linecap="butt"/>
<polyline points="486.70,1125.20 486.70,1114.00 585.30,1114.00 585.30,1125.20" fill="none" stroke="#333" stroke-width="1.3" stroke-linejoin="miter"/>
<path d="M535.70,1099.30L535.70,1096.45M535.70,1099.30L535.70,1101.85M535.70,1099.30L533.50,1097.45M535.70,1099.30L537.90,1097.45M535.70,1099.30L533.60,1100.65M535.70,1099.30L537.80,1100.65" stroke="#111" stroke-width="1.05" stroke-linecap="round" fill="none"/><circle cx="535.70" cy="1099.30" r="0.75" fill="#111"/>
<text transform="translate(-0.02,22.60) scale(1.0,1.04)" font-size="33.02" font-weight="700" fill="#000">A</text>
<text transform="translate(3.82,325.90) scale(1.0,1.04)" font-size="30.80" font-weight="700" fill="#000">B</text>
<text transform="translate(2.82,711.80) scale(1.0,1.04)" font-size="29.77" font-weight="700" fill="#000">C</text>
<text transform="translate(4.28,1080.70) scale(1.0,1.04)" font-size="31.60" font-weight="700" fill="#000">D</text>
<text transform="translate(28.94,229.73) scale(1.0,1.04)" font-size="14.12" font-weight="400" fill="#1a1a1a">200</text>
<text transform="translate(29.38,187.51) scale(1.0,1.04)" font-size="13.85" font-weight="400" fill="#1a1a1a">400</text>
<text transform="translate(28.94,145.49) scale(1.0,1.04)" font-size="14.12" font-weight="400" fill="#1a1a1a">600</text>
<text transform="translate(29.16,103.32) scale(1.0,1.04)" font-size="13.99" font-weight="400" fill="#1a1a1a">800</text>
<text transform="translate(24.62,61.30) scale(1.0,1.04)" font-size="14.13" font-weight="400" fill="#1a1a1a">1000</text>
<text transform="translate(37.57,271.98) scale(1.0,1.04)" font-size="14.50" font-weight="400" fill="#1a1a1a">0</text>
<text transform="translate(71.02,287.30) scale(1.0,1.04)" font-size="14.54" font-weight="400" fill="#111">CMV-/PSS</text>
<text transform="translate(150.53,287.10) scale(1.0,1.04)" font-size="14.29" font-weight="400" fill="#111">CMV+/PSS</text>
<text transform="translate(163.95,304.00) scale(1.0,1.04)" font-size="14.48" font-weight="400" fill="#111">SOAG-</text>
<text transform="translate(234.23,287.10) scale(1.0,1.04)" font-size="14.35" font-weight="400" fill="#111">CMV+/PSS</text>
<text transform="translate(246.15,304.00) scale(1.0,1.04)" font-size="14.39" font-weight="400" fill="#111">SOAG+</text>
<text transform="translate(23.80,201.60) rotate(-90) scale(1,1.04)" font-size="19.52" font-weight="400" fill="#111">ATX (µg/L)</text>
<text transform="translate(370.20,228.92) scale(1.0,1.04)" font-size="14.42" font-weight="400" fill="#1a1a1a">100</text>
<text transform="translate(370.43,184.12) scale(1.0,1.04)" font-size="14.28" font-weight="400" fill="#1a1a1a">200</text>
<text transform="translate(370.66,139.34) scale(1.0,1.04)" font-size="14.14" font-weight="400" fill="#1a1a1a">300</text>
<text transform="translate(370.88,94.55) scale(1.0,1.04)" font-size="14.01" font-weight="400" fill="#1a1a1a">400</text>
<text transform="translate(370.66,49.86) scale(1.0,1.04)" font-size="14.14" font-weight="400" fill="#1a1a1a">500</text>
<text transform="translate(380.95,273.65) scale(1.0,1.04)" font-size="14.40" font-weight="400" fill="#1a1a1a">0</text>
<text transform="translate(409.32,288.10) scale(1.0,1.04)" font-size="14.56" font-weight="400" fill="#111">CMV-/PSS</text>
<text transform="translate(489.42,289.40) scale(1.0,1.04)" font-size="14.41" font-weight="400" fill="#111">CMV+/PSS</text>
<text transform="translate(502.75,306.00) scale(1.0,1.04)" font-size="14.48" font-weight="400" fill="#111">SOAG-</text>
<text transform="translate(575.72,289.40) scale(1.0,1.04)" font-size="14.49" font-weight="400" fill="#111">CMV+/PSS</text>
<text transform="translate(587.95,306.00) scale(1.0,1.04)" font-size="14.39" font-weight="400" fill="#111">SOAG+</text>
<text transform="translate(360.60,220.00) rotate(-90) scale(1,1.04)" font-size="19.07" font-weight="400" fill="#111">TGFβ1 (pg/mL)</text>
<text transform="translate(30.15,619.75) scale(1.0,1.04)" font-size="16.09" font-weight="400" fill="#1e1e1e">400</text>
<text transform="translate(29.89,575.09) scale(1.0,1.04)" font-size="16.25" font-weight="400" fill="#1e1e1e">500</text>
<text transform="translate(29.63,530.43) scale(1.0,1.04)" font-size="16.41" font-weight="400" fill="#1e1e1e">600</text>
<text transform="translate(29.63,485.71) scale(1.0,1.04)" font-size="16.41" font-weight="400" fill="#1e1e1e">700</text>
<text transform="translate(29.89,440.93) scale(1.0,1.04)" font-size="16.25" font-weight="400" fill="#1e1e1e">800</text>
<text transform="translate(29.63,396.27) scale(1.0,1.04)" font-size="16.41" font-weight="400" fill="#1e1e1e">900</text>
<text transform="translate(17.79,352.12) scale(1.0,1.04)" font-size="16.19" font-weight="400" fill="#1e1e1e">1000</text>
<text transform="translate(73.86,642.73) scale(1.0,1.04)" font-size="16.60" font-weight="400" fill="#1e1e1e">10</text>
<text transform="translate(128.59,642.73) scale(1.0,1.04)" font-size="16.60" font-weight="400" fill="#1e1e1e">20</text>
<text transform="translate(183.32,642.73) scale(1.0,1.04)" font-size="16.60" font-weight="400" fill="#1e1e1e">30</text>
<text transform="translate(238.04,642.73) scale(1.0,1.04)" font-size="16.60" font-weight="400" fill="#1e1e1e">40</text>
<text transform="translate(292.52,642.73) scale(1.0,1.04)" font-size="16.60" font-weight="400" fill="#1e1e1e">50</text>
<text transform="translate(346.99,642.73) scale(1.0,1.04)" font-size="16.60" font-weight="400" fill="#1e1e1e">60</text>
<text transform="translate(160.66,678.80) scale(1.0,1.04)" font-size="19.06" font-weight="400" fill="#1e1e1e">IOP (mmHg)</text>
<text transform="translate(18.60,528.20) rotate(-90) scale(1,1.04)" font-size="19.31" font-weight="400" fill="#1e1e1e">ATX (µg/L)</text>
<text transform="translate(387.05,617.98) scale(1.0,1.04)" font-size="16.16" font-weight="400" fill="#1a1a1a">400</text>
<text transform="translate(386.79,573.83) scale(1.0,1.04)" font-size="16.31" font-weight="400" fill="#1a1a1a">500</text>
<text transform="translate(386.53,529.69) scale(1.0,1.04)" font-size="16.47" font-weight="400" fill="#1a1a1a">600</text>
<text transform="translate(386.53,485.49) scale(1.0,1.04)" font-size="16.47" font-weight="400" fill="#1a1a1a">700</text>
<text transform="translate(386.79,441.23) scale(1.0,1.04)" font-size="16.31" font-weight="400" fill="#1a1a1a">800</text>
<text transform="translate(386.53,397.09) scale(1.0,1.04)" font-size="16.47" font-weight="400" fill="#1a1a1a">900</text>
<text transform="translate(382.91,352.65) scale(1.0,1.04)" font-size="15.82" font-weight="400" fill="#1a1a1a">1000</text>
<text transform="translate(426.11,643.35) scale(1.0,1.04)" font-size="15.81" font-weight="400" fill="#1a1a1a">100</text>
<text transform="translate(500.95,643.39) scale(1.0,1.04)" font-size="15.91" font-weight="400" fill="#1a1a1a">200</text>
<text transform="translate(576.90,643.47) scale(1.0,1.04)" font-size="16.13" font-weight="400" fill="#1a1a1a">300</text>
<text transform="translate(652.15,643.50) scale(1.0,1.04)" font-size="16.22" font-weight="400" fill="#1a1a1a">400</text>
<text transform="translate(520.50,671.20) scale(1.0,1.04)" font-size="19.18" font-weight="400" fill="#1a1a1a">TGFβ1 (pg/mL)</text>
<text transform="translate(376.40,523.00) rotate(-90) scale(1,1.04)" font-size="19.48" font-weight="400" fill="#1a1a1a">ATX (µg/L)</text>
<text transform="translate(765.59,603.25) scale(1.0,1.04)" font-size="16.93" font-weight="400" fill="#1e1e1e">10</text>
<text transform="translate(765.87,554.86) scale(1.0,1.04)" font-size="16.67" font-weight="400" fill="#1e1e1e">20</text>
<text transform="translate(766.14,506.47) scale(1.0,1.04)" font-size="16.43" font-weight="400" fill="#1e1e1e">30</text>
<text transform="translate(766.40,458.09) scale(1.0,1.04)" font-size="16.19" font-weight="400" fill="#1e1e1e">40</text>
<text transform="translate(766.14,409.87) scale(1.0,1.04)" font-size="16.43" font-weight="400" fill="#1e1e1e">50</text>
<text transform="translate(765.87,361.66) scale(1.0,1.04)" font-size="16.67" font-weight="400" fill="#1e1e1e">60</text>
<text transform="translate(794.21,641.78) scale(1.0,1.04)" font-size="15.88" font-weight="400" fill="#1e1e1e">100</text>
<text transform="translate(868.32,642.01) scale(1.0,1.04)" font-size="16.53" font-weight="400" fill="#1e1e1e">200</text>
<text transform="translate(944.19,641.95) scale(1.0,1.04)" font-size="16.37" font-weight="400" fill="#1e1e1e">300</text>
<text transform="translate(1019.14,642.01) scale(1.0,1.04)" font-size="16.52" font-weight="400" fill="#1e1e1e">400</text>
<text transform="translate(887.10,667.00) scale(1.0,1.04)" font-size="19.33" font-weight="400" fill="#1e1e1e">TGFβ1 (pg/mL)</text>
<text transform="translate(753.90,541.00) rotate(-90) scale(1,1.04)" font-size="19.22" font-weight="400" fill="#1e1e1e">IOP (mmHg)</text>
<text transform="translate(33.00,993.98) scale(1.0,1.04)" font-size="15.89" font-weight="400" fill="#1a1a1a">0.0</text>
<text transform="translate(33.00,961.00) scale(1.0,1.04)" font-size="16.08" font-weight="400" fill="#1a1a1a">0.5</text>
<text transform="translate(32.48,928.02) scale(1.0,1.04)" font-size="16.27" font-weight="400" fill="#1a1a1a">1.0</text>
<text transform="translate(32.47,895.04) scale(1.0,1.04)" font-size="16.47" font-weight="400" fill="#1a1a1a">1.5</text>
<text transform="translate(32.75,861.85) scale(1.0,1.04)" font-size="16.08" font-weight="400" fill="#1a1a1a">2.0</text>
<text transform="translate(32.74,828.87) scale(1.0,1.04)" font-size="16.27" font-weight="400" fill="#1a1a1a">2.5</text>
<text transform="translate(33.00,795.68) scale(1.0,1.04)" font-size="15.89" font-weight="400" fill="#1a1a1a">3.0</text>
<text transform="translate(18.40,746.90) scale(1.0,1.04)" font-size="18.76" font-weight="400" fill="#111">ATX</text>
<text transform="translate(92.56,1015.35) scale(1.0,1.04)" font-size="15.80" font-weight="400" fill="#111">0</text>
<text transform="translate(153.81,1015.35) scale(1.0,1.04)" font-size="15.80" font-weight="400" fill="#111">6</text>
<text transform="translate(210.74,1015.48) scale(1.0,1.04)" font-size="15.80" font-weight="400" fill="#111">12</text>
<text transform="translate(269.99,1015.48) scale(1.0,1.04)" font-size="15.80" font-weight="400" fill="#111">24</text>
<text transform="translate(67.62,1034.50) scale(1.0,1.04)" font-size="17.76" font-weight="400" fill="#111">Time post virus exposure (hrs)</text>
<text transform="translate(25.60,987.40) rotate(-90) scale(1,1.04)" font-size="17.66" font-weight="400" fill="#111">mRNA relative to GAPDH</text>
<text transform="translate(329.02,996.75) scale(1.0,1.04)" font-size="15.52" font-weight="400" fill="#1a1a1a">0.0</text>
<text transform="translate(329.01,954.91) scale(1.0,1.04)" font-size="15.70" font-weight="400" fill="#1a1a1a">0.5</text>
<text transform="translate(328.51,913.08) scale(1.0,1.04)" font-size="15.89" font-weight="400" fill="#1a1a1a">1.0</text>
<text transform="translate(328.49,871.25) scale(1.0,1.04)" font-size="16.08" font-weight="400" fill="#1a1a1a">1.5</text>
<text transform="translate(328.76,829.21) scale(1.0,1.04)" font-size="15.70" font-weight="400" fill="#1a1a1a">2.0</text>
<text transform="translate(328.76,787.38) scale(1.0,1.04)" font-size="15.89" font-weight="400" fill="#1a1a1a">2.5</text>
<text transform="translate(288.51,744.40) scale(1.0,1.04)" font-size="18.25" font-weight="400" fill="#111">TGFβ1</text>
<text transform="translate(387.31,1016.75) scale(1.0,1.04)" font-size="15.80" font-weight="400" fill="#111">0</text>
<text transform="translate(448.61,1016.75) scale(1.0,1.04)" font-size="15.80" font-weight="400" fill="#111">6</text>
<text transform="translate(505.44,1016.88) scale(1.0,1.04)" font-size="15.80" font-weight="400" fill="#111">12</text>
<text transform="translate(564.49,1016.88) scale(1.0,1.04)" font-size="15.80" font-weight="400" fill="#111">24</text>
<text transform="translate(358.12,1034.80) scale(1.0,1.04)" font-size="17.74" font-weight="400" fill="#111">Time post virus exposure (hrs)</text>
<text transform="translate(328.50,984.11) rotate(-90) scale(1,1.04)" font-size="17.72" font-weight="400" fill="#111">mRNA relative to GAPDH</text>
<text transform="translate(624.92,995.12) scale(1.0,1.04)" font-size="15.44" font-weight="400" fill="#1a1a1a">0.0</text>
<text transform="translate(624.91,963.63) scale(1.0,1.04)" font-size="15.63" font-weight="400" fill="#1a1a1a">0.2</text>
<text transform="translate(624.92,932.00) scale(1.0,1.04)" font-size="15.44" font-weight="400" fill="#1a1a1a">0.4</text>
<text transform="translate(624.91,900.51) scale(1.0,1.04)" font-size="15.63" font-weight="400" fill="#1a1a1a">0.6</text>
<text transform="translate(624.91,868.95) scale(1.0,1.04)" font-size="15.63" font-weight="400" fill="#1a1a1a">0.8</text>
<text transform="translate(624.41,837.45) scale(1.0,1.04)" font-size="15.81" font-weight="400" fill="#1a1a1a">1.0</text>
<text transform="translate(624.40,806.09) scale(1.0,1.04)" font-size="16.00" font-weight="400" fill="#1a1a1a">1.2</text>
<text transform="translate(624.41,774.46) scale(1.0,1.04)" font-size="15.81" font-weight="400" fill="#1a1a1a">1.4</text>
<text transform="translate(585.85,746.95) scale(1.0,1.04)" font-size="19.27" font-weight="400" fill="#111">TGFβ2</text>
<text transform="translate(686.76,1011.15) scale(1.0,1.04)" font-size="15.80" font-weight="400" fill="#111">0</text>
<text transform="translate(748.61,1011.15) scale(1.0,1.04)" font-size="15.80" font-weight="400" fill="#111">6</text>
<text transform="translate(805.04,1011.28) scale(1.0,1.04)" font-size="15.80" font-weight="400" fill="#111">12</text>
<text transform="translate(864.09,1011.28) scale(1.0,1.04)" font-size="15.80" font-weight="400" fill="#111">24</text>
<text transform="translate(655.92,1031.00) scale(1.0,1.04)" font-size="17.65" font-weight="400" fill="#111">Time post virus exposure (hrs)</text>
<text transform="translate(623.00,986.71) rotate(-90) scale(1,1.04)" font-size="17.71" font-weight="400" fill="#111">mRNA relative to GAPDH</text>
<text transform="translate(919.75,996.38) scale(1.0,1.04)" font-size="15.89" font-weight="400" fill="#1a1a1a">0.0</text>
<text transform="translate(919.75,964.93) scale(1.0,1.04)" font-size="16.08" font-weight="400" fill="#1a1a1a">0.2</text>
<text transform="translate(919.75,933.34) scale(1.0,1.04)" font-size="15.89" font-weight="400" fill="#1a1a1a">0.4</text>
<text transform="translate(919.75,901.89) scale(1.0,1.04)" font-size="16.08" font-weight="400" fill="#1a1a1a">0.6</text>
<text transform="translate(919.75,870.37) scale(1.0,1.04)" font-size="16.08" font-weight="400" fill="#1a1a1a">0.8</text>
<text transform="translate(919.23,838.92) scale(1.0,1.04)" font-size="16.27" font-weight="400" fill="#1a1a1a">1.0</text>
<text transform="translate(919.22,807.60) scale(1.0,1.04)" font-size="16.47" font-weight="400" fill="#1a1a1a">1.2</text>
<text transform="translate(919.23,776.01) scale(1.0,1.04)" font-size="16.27" font-weight="400" fill="#1a1a1a">1.4</text>
<text transform="translate(1069.58,759.20) scale(1.0,1.04)" font-size="13.00" font-weight="400" fill="#222">NS</text>
<text transform="translate(878.40,745.70) scale(1.0,1.04)" font-size="19.16" font-weight="400" fill="#111">TGFβ3</text>
<text transform="translate(979.26,1011.15) scale(1.0,1.04)" font-size="15.80" font-weight="400" fill="#111">0</text>
<text transform="translate(1041.46,1011.15) scale(1.0,1.04)" font-size="15.80" font-weight="400" fill="#111">6</text>
<text transform="translate(1099.94,1011.28) scale(1.0,1.04)" font-size="15.80" font-weight="400" fill="#111">12</text>
<text transform="translate(1162.94,1011.28) scale(1.0,1.04)" font-size="15.80" font-weight="400" fill="#111">24</text>
<text transform="translate(953.02,1031.00) scale(1.0,1.04)" font-size="17.72" font-weight="400" fill="#111">Time post virus exposure (hrs)</text>
<text transform="translate(916.40,987.00) rotate(-90) scale(1,1.04)" font-size="17.67" font-weight="400" fill="#111">mRNA relative to GAPDH</text>
<text transform="translate(34.88,1276.44) scale(1.0,1.04)" font-size="15.41" font-weight="400" fill="#111">200</text>
<text transform="translate(35.36,1221.11) scale(1.0,1.04)" font-size="15.11" font-weight="400" fill="#111">400</text>
<text transform="translate(34.88,1166.00) scale(1.0,1.04)" font-size="15.41" font-weight="400" fill="#111">600</text>
<text transform="translate(35.12,1114.65) scale(1.0,1.04)" font-size="15.26" font-weight="400" fill="#111">800</text>
<text transform="translate(44.05,1331.47) scale(1.0,1.04)" font-size="16.00" font-weight="400" fill="#111">0</text>
<text transform="translate(105.50,1352.12) scale(1.0,1.04)" font-size="16.00" font-weight="400" fill="#111">0</text>
<text transform="translate(188.38,1352.25) scale(1.0,1.04)" font-size="16.00" font-weight="400" fill="#111">1</text>
<text transform="translate(274.43,1352.12) scale(1.0,1.04)" font-size="16.00" font-weight="400" fill="#111">3</text>
<text transform="translate(60.72,1369.50) scale(1.0,1.04)" font-size="17.74" font-weight="400" fill="#111">Time post virus exposure (days)</text>
<text transform="translate(30.90,1272.88) rotate(-90) scale(1,1.04)" font-size="17.70" font-weight="400" fill="#111">TGFβ1 (pg/ml)</text>
<text transform="translate(404.02,1293.36) scale(1.0,1.04)" font-size="15.43" font-weight="400" fill="#111">50</text>
<text transform="translate(400.18,1250.63) scale(1.0,1.04)" font-size="14.67" font-weight="400" fill="#111">100</text>
<text transform="translate(400.18,1208.17) scale(1.0,1.04)" font-size="14.67" font-weight="400" fill="#111">150</text>
<text transform="translate(400.42,1165.65) scale(1.0,1.04)" font-size="14.53" font-weight="400" fill="#111">200</text>
<text transform="translate(398.96,1123.94) scale(1.0,1.04)" font-size="15.78" font-weight="400" fill="#111">250</text>
<text transform="translate(409.40,1335.82) scale(1.0,1.04)" font-size="16.00" font-weight="400" fill="#111">0</text>
<text transform="translate(484.50,1352.92) scale(1.0,1.04)" font-size="16.00" font-weight="400" fill="#111">0</text>
<text transform="translate(579.88,1353.05) scale(1.0,1.04)" font-size="16.00" font-weight="400" fill="#111">1</text>
<text transform="translate(411.42,1370.80) scale(1.0,1.04)" font-size="17.72" font-weight="400" fill="#111">Time post virus exposure (days)</text>
<text transform="translate(386.00,1305.71) rotate(-90) scale(1,1.04)" font-size="18.02" font-weight="400" fill="#111">LysoPLD activity (%)</text>
</svg>
</body></html>
